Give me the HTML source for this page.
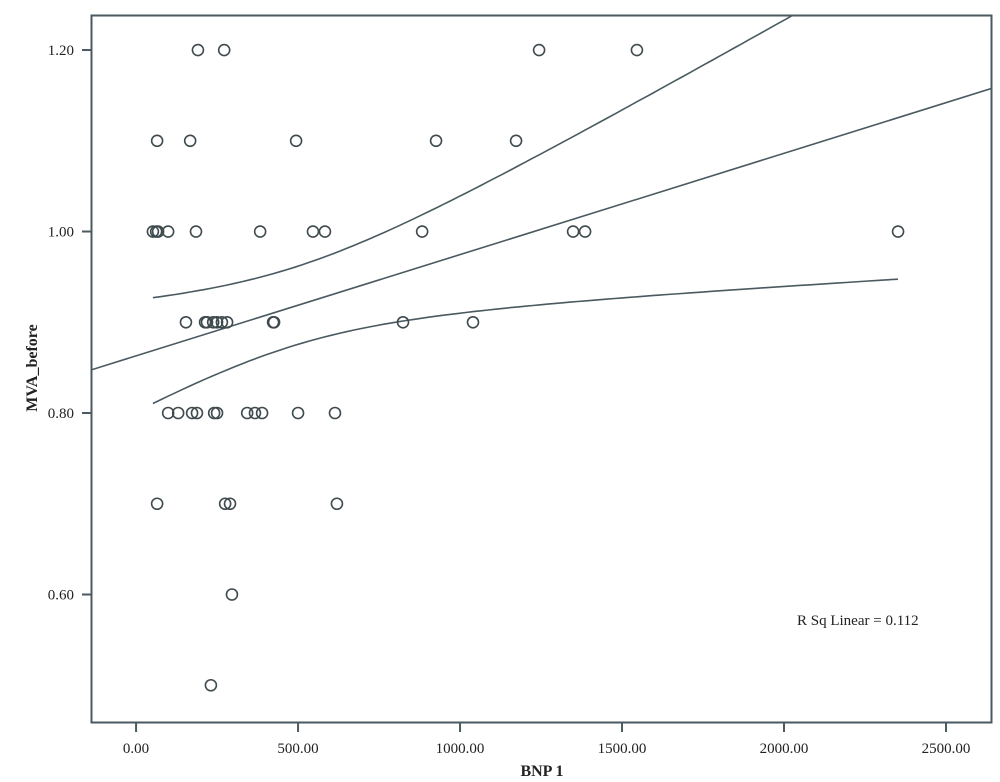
<!DOCTYPE html>
<html><head><meta charset="utf-8"><style>
body{margin:0;background:#fff}
svg{display:block;font-family:"Liberation Serif",serif}
</style></head><body>
<svg id="chart" width="1000" height="782" viewBox="0 0 1000 782">
<defs><clipPath id="plotclip"><rect x="92" y="15" width="900" height="707"/></clipPath></defs>
<rect x="91.5" y="15.5" width="900" height="707" fill="#fff" stroke="#4a5a60" stroke-width="2"/>
<g id="axes"></g>
<g id="lines" clip-path="url(#plotclip)"></g>
<g id="points"></g>
<text transform="translate(37,368) rotate(-90)" text-anchor="middle" font-size="16" font-weight="bold" fill="#222">MVA_before</text>
<text x="542" y="776" text-anchor="middle" font-size="16" font-weight="bold" fill="#222">BNP 1</text>
<text x="797" y="625" font-size="15" fill="#222">R Sq Linear = 0.112</text>
</svg>
<script>
const bnpValues = [191,272,1244,1546, 65,167,494,926,1173, 52,62,68,99,185,383,546,583,883,1349,1386,2352, 154,213,219,238,250,265,281,423,426,824,1040, 99,130,173,188,241,250,343,367,389,500,614, 65,275,290,620, 296, 231];
const mvaValues = [1.2,1.2,1.2,1.2, 1.1,1.1,1.1,1.1,1.1, 1,1,1,1,1,1,1,1,1,1,1,1, 0.9,0.9,0.9,0.9,0.9,0.9,0.9,0.9,0.9,0.9,0.9, 0.8,0.8,0.8,0.8,0.8,0.8,0.8,0.8,0.8,0.8,0.8, 0.7,0.7,0.7,0.7, 0.6, 0.5];
const xTicks = [0,500,1000,1500,2000,2500];
const xTickLabels = ["0.00","500.00","1000.00","1500.00","2000.00","2500.00"];
const yTicks = [0.6,0.8,1.0,1.2];
const yTickLabels = ["0.60","0.80","1.00","1.20"];

const NS="http://www.w3.org/2000/svg";
const X0=92,X1=992,Y0=15,Y1=722;
const xMin=-136,xMax=2642,yMin=0.4595,yMax=1.2386;
function sx(v){return X0+(v-xMin)/(xMax-xMin)*(X1-X0);}
function sy(v){return Y1-(v-yMin)/(yMax-yMin)*(Y1-Y0);}
function mk(tag,attrs,parent){const e=document.createElementNS(NS,tag);for(const k in attrs)e.setAttribute(k,attrs[k]);parent.appendChild(e);return e;}
const axes=document.getElementById('axes');
xTicks.forEach((t,i)=>{
  const l=mk('line',{x1:sx(t),x2:sx(t),y1:Y1,y2:Y1+10,stroke:'#4a5a60','stroke-width':2},axes);
  
  
  const tx=mk('text',{x:sx(t),y:753,'text-anchor':'middle','font-size':15,fill:'#222'},axes);
  tx.textContent=xTickLabels[i];
  
  
});
yTicks.forEach((t,i)=>{
  const l=mk('line',{x1:X0-10,x2:X0,y1:sy(t),y2:sy(t),stroke:'#4a5a60','stroke-width':2},axes);
  
  
  const tx=mk('text',{x:74,y:sy(t)+5,'text-anchor':'end','font-size':15,fill:'#222'},axes);
  tx.textContent=yTickLabels[i];
  
  
});
// regression
const n=bnpValues.length;
const mx=bnpValues.reduce((a,b)=>a+b,0)/n, my=mvaValues.reduce((a,b)=>a+b,0)/n;
let sxx=0,sxy=0;for(let i=0;i<n;i++){sxx+=(bnpValues[i]-mx)**2;sxy+=(bnpValues[i]-mx)*(mvaValues[i]-my);}
const b=sxy/sxx,a=my-b*mx;
let sse=0;for(let i=0;i<n;i++){sse+=(mvaValues[i]-a-b*bnpValues[i])**2;}
const s=Math.sqrt(sse/(n-2)),tcrit=2.012;
const lines=document.getElementById('lines');
const fit=mk('line',{x1:sx(xMin),y1:sy(a+b*xMin),x2:sx(xMax),y2:sy(a+b*xMax),stroke:'#4a5a60','stroke-width':1.6},lines);


const lo=Math.min(...bnpValues),hi=Math.max(...bnpValues);
let up='',dn='';
for(let k=0;k<=100;k++){const x=lo+(hi-lo)*k/100;const yh=a+b*x;const se=s*Math.sqrt(1/n+(x-mx)**2/sxx);
 up+=(k?'L':'M')+sx(x).toFixed(1)+','+sy(yh+tcrit*se).toFixed(1);
 dn+=(k?'L':'M')+sx(x).toFixed(1)+','+sy(yh-tcrit*se).toFixed(1);}
const pu=mk('path',{d:up,fill:'none',stroke:'#4a5a60','stroke-width':1.6},lines);


const pd=mk('path',{d:dn,fill:'none',stroke:'#4a5a60','stroke-width':1.6},lines);


const pts=document.getElementById('points');
for(let i=0;i<n;i++){
  const c=mk('circle',{cx:sx(bnpValues[i]),cy:sy(mvaValues[i]),r:5.5,fill:'none',stroke:'#3f4a4e','stroke-width':1.6},pts);
  
  
}
</script>
</body></html>
